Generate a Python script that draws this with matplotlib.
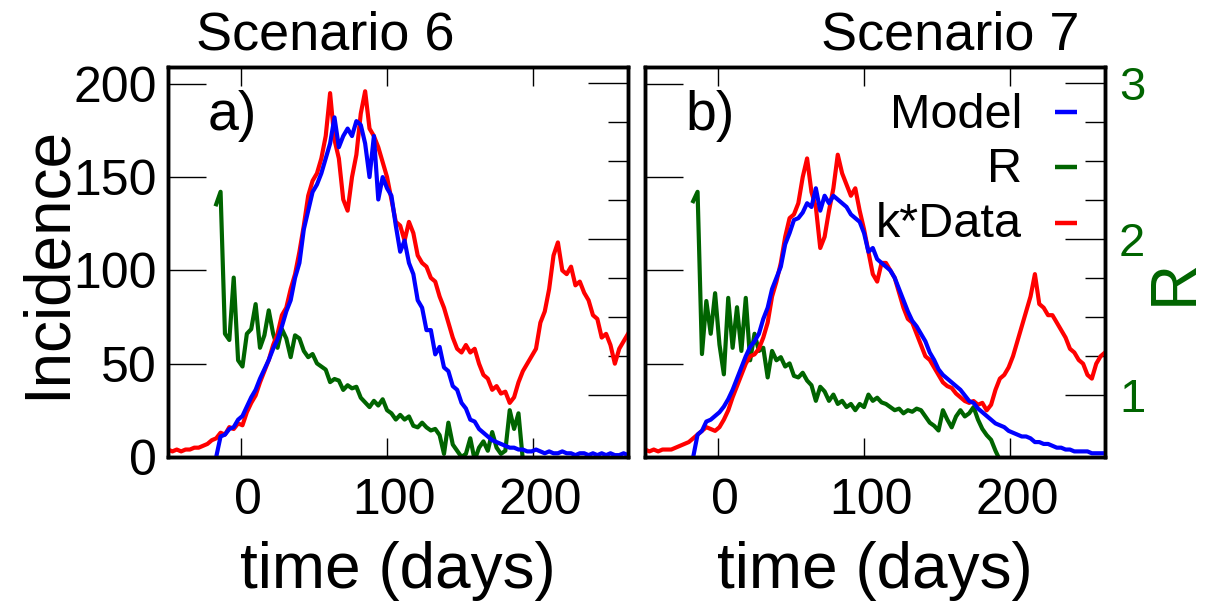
import matplotlib
matplotlib.use("Agg")
import matplotlib.pyplot as plt
import matplotlib.transforms as mtransforms
import numpy as np

plt.rcParams["font.family"] = ["Liberation Sans", "DejaVu Sans"]

# time grids (days)
days_data = np.arange(-50, 266, 3)
days_model = np.arange(-17, 266, 3)
days_r = np.arange(-17, 194, 3)

# Scenario 6
data6 = [4, 3, 4, 3, 4, 4, 5, 5, 6, 7,
         9, 10, 13, 12, 16, 15, 18, 17, 24, 29,
         33, 40, 46, 52, 60, 66, 76, 80, 90, 98,
         110, 124, 140, 148, 152, 160, 172, 195, 170, 160,
         138, 132, 150, 162, 184, 196, 176, 172, 166, 158,
         150, 138, 126, 124, 116, 126, 120, 108, 104, 102,
         96, 94, 86, 80, 72, 64, 58, 56, 60, 56,
         58, 50, 44, 42, 36, 38, 34, 35, 29, 32,
         40, 46, 50, 54, 58, 72, 78, 90, 108, 115,
         100, 98, 102, 92, 94, 88, 84, 76, 74, 64,
         66, 60, 50, 58, 62, 66]
model6 = [0, 11, 12, 15, 16, 20, 22, 27, 32, 36,
          42, 47, 52, 58, 63, 70, 78, 84, 96, 104,
          122, 132, 142, 146, 152, 160, 168, 182, 166, 172,
          176, 172, 180, 178, 168, 150, 172, 138, 150, 144,
          140, 124, 110, 116, 104, 98, 84, 80, 68, 68,
          55, 59, 48, 46, 38, 36, 29, 26, 20, 19,
          15, 13, 11, 9, 8, 7, 6, 5, 5, 4,
          4, 3, 3, 4, 3, 2, 3, 2, 2, 3,
          2, 2, 1, 2, 2, 1, 2, 1, 2, 1,
          2, 1, 1, 2, 1]
r6 = [2.22, 2.30, 1.39, 1.35, 1.75, 1.22, 1.18, 1.39, 1.42, 1.58,
      1.30, 1.38, 1.54, 1.39, 1.30, 1.42, 1.36, 1.24, 1.38, 1.36,
      1.28, 1.24, 1.26, 1.20, 1.18, 1.16, 1.08, 1.10, 1.09, 1.03,
      1.06, 1.04, 1.05, 0.98, 0.95, 0.92, 0.96, 0.93, 0.97, 0.90,
      0.88, 0.84, 0.87, 0.84, 0.86, 0.80, 0.79, 0.82, 0.79, 0.77,
      0.78, 0.74, 0.62, 0.82, 0.68, 0.64, 0.60, 0.62, 0.72, 0.58,
      0.66, 0.70, 0.64, 0.76, 0.66, 0.62, 0.64, 0.90, 0.78, 0.88,
      0.58]

# Scenario 7
data7 = [4, 3, 4, 3, 4, 4, 4, 5, 6, 7,
         8, 10, 12, 14, 16, 15, 14, 16, 20, 25,
         32, 38, 44, 50, 54, 55, 58, 64, 72, 86,
         94, 104, 118, 128, 130, 136, 150, 160, 142, 134,
         112, 118, 132, 144, 162, 152, 146, 140, 144, 132,
         122, 110, 98, 94, 104, 104, 100, 96, 88, 80,
         74, 72, 66, 60, 54, 52, 48, 44, 40, 38,
         37, 34, 32, 30, 29, 30, 28, 29, 25, 28,
         36, 42, 44, 48, 54, 62, 70, 78, 86, 98,
         82, 80, 76, 76, 72, 68, 64, 58, 56, 52,
         50, 44, 42, 50, 54, 56]
model7 = [0, 12, 14, 19, 20, 22, 24, 27, 31, 36,
          42, 48, 54, 59, 62, 66, 74, 80, 90, 96,
          102, 114, 120, 127, 128, 131, 136, 134, 144, 132,
          140, 136, 140, 138, 136, 134, 130, 128, 126, 120,
          110, 112, 106, 104, 102, 100, 96, 90, 84, 78,
          73, 70, 66, 62, 56, 52, 47, 44, 42, 40,
          38, 36, 33, 30, 29, 26, 24, 22, 20, 18,
          17, 16, 14, 13, 12, 11, 11, 10, 8, 8,
          7, 7, 6, 5, 5, 4, 4, 3, 3, 3,
          3, 2, 2, 2, 2]
r7 = [2.24, 2.30, 1.26, 1.60, 1.39, 1.65, 1.32, 1.13, 1.62, 1.30,
      1.56, 1.28, 1.62, 1.22, 1.39, 1.28, 1.30, 1.11, 1.28, 1.22,
      1.24, 1.18, 1.20, 1.12, 1.11, 1.14, 1.09, 1.06, 0.96, 1.05,
      1.02, 0.96, 1.00, 0.94, 0.96, 0.92, 0.94, 0.90, 0.94, 0.92,
      1.00, 0.96, 0.98, 0.95, 0.94, 0.92, 0.90, 0.91, 0.88, 0.90,
      0.89, 0.91, 0.90, 0.86, 0.82, 0.80, 0.77, 0.90, 0.84, 0.79,
      0.86, 0.90, 0.86, 0.88, 0.92, 0.84, 0.78, 0.74, 0.71, 0.64,
      0.58]

inc_ticks = [0, 50, 100, 150, 200]
day_ticks = [0, 100, 200]
r_ticks = [1, 2, 3]
r_minor = [1.25, 1.5, 1.75, 2.25, 2.5, 2.75]

RED, BLUE, GREEN = "#ff0000", "#0000ff", "#006400"
W, H = 1208, 608
LW = 3.0

fig = plt.figure(figsize=(W / 100, H / 100), dpi=100)

panels = [
    (168, data6, model6, r6, "a)", "Scenario 6", 325),
    (645, data7, model7, r7, "b)", "Scenario 7", 950),
]
shift = mtransforms.ScaledTranslation(7 / 100, 0, fig.dpi_scale_trans)

for i, (x0, data, model, r, tag, title, title_x) in enumerate(panels):
    ax = fig.add_axes([x0 / W, 1 - 457 / H, 460 / W, 390 / H])
    axr = ax.twinx()
    ax.set_zorder(axr.get_zorder() + 1)
    ax.patch.set_visible(False)

    axr.plot(days_r, r, color=GREEN, lw=LW)
    ax.plot(days_data, data, color=RED, lw=LW)
    ax.plot(days_model, model, color=BLUE, lw=LW)

    ax.set_xlim(-50, 265)
    ax.set_ylim(0, 209)
    axr.set_ylim(0.6, 3.1)
    ax.set_xticks(day_ticks)
    ax.set_yticks(inc_ticks)
    axr.set_yticks(r_ticks)
    axr.set_yticks(r_minor, minor=True)

    ax.tick_params(axis="x", direction="in", length=14, width=1, top=True,
                   labelsize=36, pad=15)
    ax.tick_params(axis="y", direction="in", length=27.5, width=1, right=False,
                   labelsize=36, pad=8, labelleft=(i == 0))
    axr.tick_params(axis="y", which="major", direction="in", length=29, width=1,
                    labelsize=34, labelcolor=GREEN, pad=10, labelright=(i == 1))
    axr.tick_params(axis="y", which="minor", direction="in", length=14.5, width=1)
    for a in (ax, axr):
        for sp in a.spines.values():
            sp.set_linewidth(2.5)
    for lab in ax.get_xticklabels():
        lab.set_transform(lab.get_transform() + shift)

    ax.set_xlabel("time (days)", fontsize=46)
    ax.xaxis.label.set_verticalalignment("baseline")
    ax.xaxis.set_label_coords(0.5, (457 - 588) / 390)

    ax.text(0.087, 0.838, tag, transform=ax.transAxes, fontsize=40,
            ha="left", va="baseline")
    fig.text(title_x / W, 1 - 50 / H, title, fontsize=39, ha="center", va="baseline")

    if i == 0:
        ax.set_ylabel("Incidence", fontsize=46)
        ax.yaxis.label.set_verticalalignment("baseline")
        ax.yaxis.set_label_coords((65 - 168) / 460, 0.5)
    else:
        axr.set_ylabel("R", fontsize=46, color=GREEN)
        axr.yaxis.label.set_verticalalignment("baseline")
        axr.yaxis.set_label_coords((1192 - 645) / 460, 0.449)
        # legend: text right-aligned, short sample line after it
        entries = [("Model", BLUE, 0.8846, 0.8436),
                   ("R", GREEN, 0.7436, 0.7051),
                   ("k*Data", RED, 0.60, 0.5641)]
        for label, col, yl, yt in entries:
            ax.text(0.8196, yt, label, transform=ax.transAxes, fontsize=35,
                    ha="right", va="baseline")
            ax.plot([0.891, 0.939], [yl, yl], color=col, lw=3.2,
                    transform=ax.transAxes, solid_capstyle="butt")

fig.savefig("out.png", dpi=100)
